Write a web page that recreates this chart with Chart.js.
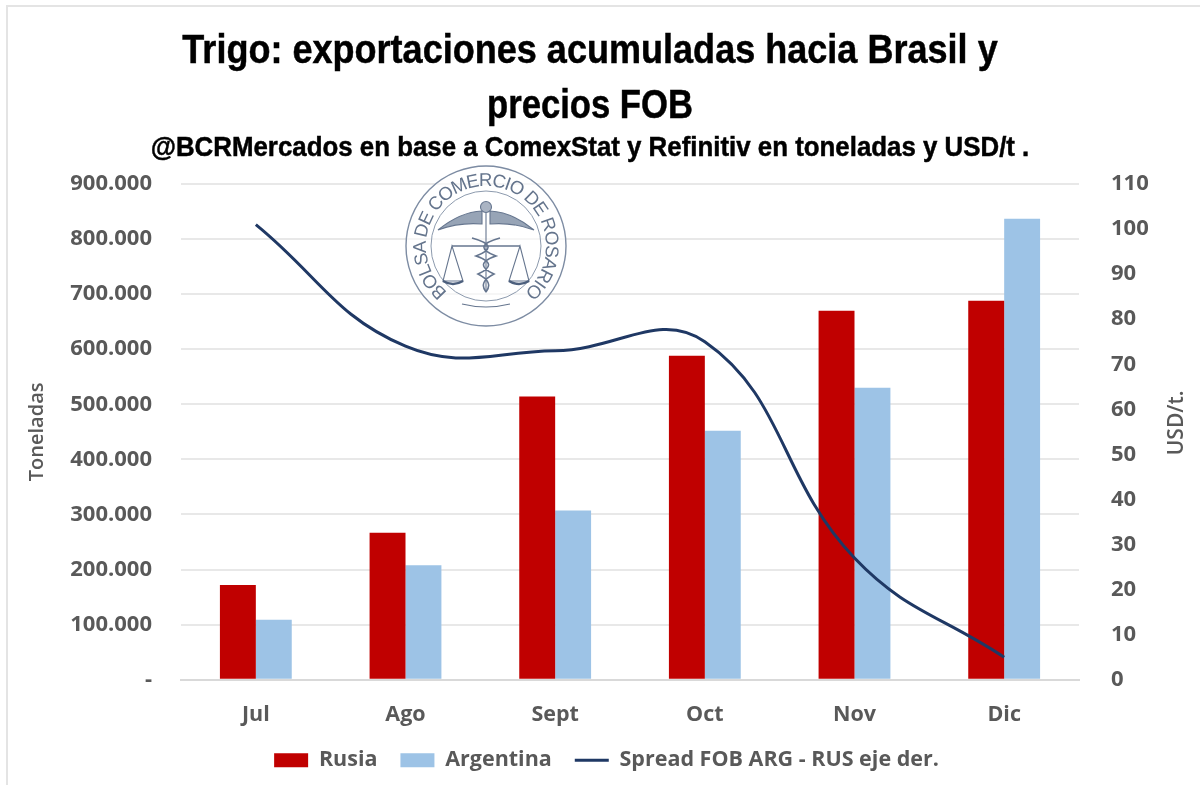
<!DOCTYPE html>
<html><head><meta charset="utf-8">
<script src="https://cdn.jsdelivr.net/npm/chart.js@4"></script>
<style>
html,body{margin:0;padding:0;background:#fff;width:1200px;height:785px;overflow:hidden}
#wrap{position:relative;width:1200px;height:785px}
#frame{position:absolute;left:6px;top:5px;width:1194px;height:780px;border-left:2px solid #e4e4e4;border-top:2px solid #e4e4e4;box-sizing:border-box;pointer-events:none}
canvas{position:absolute;left:0;top:0}
#seal{position:absolute;left:402px;top:162px;width:168px;height:168px;pointer-events:none}
.t{position:absolute;left:590px;white-space:nowrap;font-family:"Liberation Sans";font-weight:bold;color:#000;line-height:1;transform-origin:center;-webkit-text-stroke:.5px #000}
</style></head><body>
<div id="wrap">
<canvas id="c" width="1200" height="785"></canvas>
<div id="frame"></div>
<div class="t" id="t1" data-w="815" style="top:29px;font-size:41px"></div>
<div class="t" id="t2" data-w="206" style="top:84px;font-size:41px"></div>
<div class="t" id="t3" data-w="879" style="top:133px;font-size:28px"></div>
<svg id="seal" viewBox="0 0 168 168">
  <defs><path id="ring" d="M 45.4 130 A 60 60 0 1 1 122.6 130"/></defs>
  <circle cx="84" cy="84" r="80" fill="#fff" fill-opacity=".6" stroke="#7d8ca3" stroke-width="1.4"/>
  <circle cx="84" cy="84" r="55" fill="none" stroke="#8c99ad" stroke-width="1"/>
  <text font-family="Liberation Sans" font-size="18.5" fill="#64748c"><textPath href="#ring" textLength="293" lengthAdjust="spacing">BOLSA DE COMERCIO DE ROSARIO</textPath></text>
  <g fill="none" stroke="#66768f" stroke-width="1.1">
    <path d="M84 41 V130"/>
    <circle cx="84" cy="45" r="5.5" fill="#aab4c3"/>
    <path d="M36 68 Q58 50 80 49 L80 62 Q58 60 36 68Z" fill="#97a4b6"/>
    <path d="M132 68 Q110 50 88 49 L88 62 Q110 60 132 68Z" fill="#97a4b6"/>
    <path d="M50 84 H118" stroke-width="1.4"/>
    <path d="M50 84 L41 119 H61 Z M118 84 L107 119 H127 Z"/>
    <path d="M41 119 Q51 125 61 119 M107 119 Q117 125 127 119" stroke="#4c5f7d" stroke-width="2.4"/>
    <path d="M70 76 Q100 84 74 94 Q98 102 76 112 Q92 120 84 130 M98 76 Q68 84 94 94 Q70 102 92 112 Q76 120 84 130" stroke-width="1.6"/>
    <path d="M60 142 Q84 148 108 142"/>
  </g>
</svg>
</div>
<script>
const categories = ['Jul','Ago','Sept','Oct','Nov','Dic'];
const rusia = [172000,267000,514000,588000,670000,688000];
const argentina = [109000,208000,307000,452000,530000,837000];
const spread = [101,74,73,75,27,5];
const leftMax = 900000, leftStep = 100000;
const rightMax = 110, rightStep = 10;
const titleLines = ['Trigo: exportaciones acumuladas hacia Brasil y','precios FOB'];
const subtitleText = '@BCRMercados en base a ComexStat y Refinitiv en toneladas y USD/t .';
const leftTitle = 'Toneladas', rightTitle = 'USD/t.';

[['t1',titleLines[0]],['t2',titleLines[1]],['t3',subtitleText]].forEach(([id,txt])=>{
  const el=document.getElementById(id);
  el.textContent=txt;
  const k=(+el.dataset.w)/el.offsetWidth;
  el.style.transform='translateX(-50%) scaleX('+k+')';
});

const GREY = '#595959';
const tickFont = {family:'"Open Sans"',size:22,weight:'bold'};
const axisTitleFont = {family:'"Open Sans"',size:20,weight:'600'};

const rightTitlePlugin = {
  id:'rightTitle',
  afterDraw(chart){
    const {ctx,chartArea:a} = chart;
    ctx.save();
    ctx.translate(1177,(a.top+a.bottom)/2-9);
    ctx.rotate(-Math.PI/2);
    ctx.font='600 21px "Open Sans"';
    ctx.fillStyle=GREY;ctx.textAlign='center';ctx.textBaseline='middle';
    ctx.fillText(rightTitle,0,0);
    ctx.restore();
  }
};

new Chart(document.getElementById('c'),{
  data:{labels:categories,datasets:[
    {type:'line',label:'Spread FOB ARG - RUS eje der.',data:spread,yAxisID:'y2',borderColor:'#1f3864',backgroundColor:'#1f3864',borderWidth:3,pointRadius:0,tension:0.42,capBezierPoints:false,order:0,pointStyle:'line'},
    {type:'bar',label:'Rusia',data:rusia,yAxisID:'y',backgroundColor:'#c00000',order:1,barPercentage:1,categoryPercentage:0.48,pointStyle:'rect'},
    {type:'bar',label:'Argentina',data:argentina,yAxisID:'y',backgroundColor:'#9dc3e6',order:2,barPercentage:1,categoryPercentage:0.48,pointStyle:'rect'}
  ]},
  plugins:[rightTitlePlugin],
  options:{
    responsive:false,animation:false,
    layout:{padding:{left:25,right:12,top:184,bottom:4}},
    plugins:{
      title:{display:false},
      tooltip:{enabled:false},
      legend:{position:'bottom',
        labels:{
          color:GREY,font:{family:'"Open Sans"',size:21.5,weight:'bold'},usePointStyle:true,pointStyleWidth:34,boxHeight:14,padding:23,
          sort:(a,b)=>a.datasetIndex===0?1:(b.datasetIndex===0?-1:a.datasetIndex-b.datasetIndex)
        }}
    },
    scales:{
      x:{grid:{display:false,drawTicks:false},border:{color:'#d9d9d9',width:2},ticks:{color:GREY,font:{...tickFont,size:21.5},padding:22},
        afterFit(s){s.height-=23}},
      y:{position:'left',min:0,max:leftMax,grid:{color:'#e8e8e8',lineWidth:2,drawTicks:false},border:{display:false},
        ticks:{stepSize:leftStep,color:GREY,font:tickFont,padding:29,callback:v=>v===0?'-':v.toLocaleString('de-DE')},
        title:{display:true,text:leftTitle,color:GREY,font:axisTitleFont,padding:{top:0,bottom:6}},
        afterFit(s){s.width=156}},
      y2:{position:'right',min:0,max:rightMax,grid:{display:false,drawTicks:false},border:{display:false},
        ticks:{stepSize:rightStep,color:GREY,font:tickFont,padding:32},
        afterFit(s){s.width=109}}
    }
  }
});
</script></body></html>
